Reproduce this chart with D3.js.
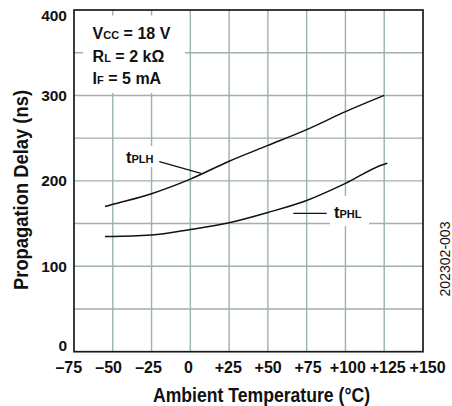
<!DOCTYPE html>
<html>
<head>
<meta charset="utf-8">
<script src="https://cdn.jsdelivr.net/npm/d3@7"></script>
<style>
  html, body { margin: 0; padding: 0; background: #fff; }
  svg { display: block; }
  .bold { font-family: "Liberation Sans", Arial, sans-serif; font-weight: bold; fill: #111; }
  .reg { font-family: "Liberation Sans", Arial, sans-serif; fill: #111; }
</style>
</head>
<body>
<svg id="chart" width="452" height="406"></svg>
<script>
// ---- data ----
const tempsPLH = [-55, -50, -25, 0, 25, 50, 75, 100, 125];
const valuesPLH = [170, 172.5, 185, 202, 223, 241.5, 260, 281, 300];
const tempsPHL = [-55, -50, -25, 0, 25, 50, 75, 100, 125, 127];
const valuesPHL = [135, 135, 136.5, 143, 151, 163, 177, 197, 219.5, 220.5];

const xTickValues = [-75, -50, -25, 0, 25, 50, 75, 100, 125, 150];
const xTickLabels = ["\u201375", "\u201350", "\u201325", "0", "+25", "+50", "+75", "+100", "+125", "+150"];
const yTickValues = [0, 100, 200, 300, 400];
const yTickLabels = ["0", "100", "200", "300", "400"];
const yGridValues = [50, 100, 150, 200, 250, 300, 350];
const xGridValues = [-50, -25, 0, 25, 50, 75, 100, 125];

const xTitle = "Ambient Temperature (\u00B0C)";
const yTitle = "Propagation Delay (ns)";
const figId = "202302-003";
const conditions = [["V", "CC", " = 18 V"], ["R", "L", " = 2 k\u03A9"], ["I", "F", " = 5 mA"]];
const seriesLabels = [["t", "PLH"], ["t", "PHL"]];

// ---- layout ----
const svg = d3.select("#chart");
const x = d3.scaleLinear().domain([-75, 150]).range([74, 423]);
const xLabel = d3.scaleLinear().domain([-75, 150]).range([68.8, 427.6]);
const y = d3.scaleLinear().domain([0, 400]).range([351.7, 10]);
const gridColor = "#9db1ae";

// grid
svg.append("g").selectAll("line").data(xGridValues).join("line")
  .attr("x1", d => x(d)).attr("x2", d => x(d))
  .attr("y1", y(0)).attr("y2", y(400))
  .attr("stroke", gridColor).attr("stroke-width", 1.4);
svg.append("g").selectAll("line").data(yGridValues).join("line")
  .attr("x1", x(-75)).attr("x2", x(150))
  .attr("y1", d => y(d)).attr("y2", d => y(d))
  .attr("stroke", gridColor).attr("stroke-width", 1.4);

// white backgrounds behind annotations (data units)
const bgBoxes = [
  [-69.2, -3.4, 393.6, 302.8],
  [-42.8, -21.5, 240.8, 216.2],
  [90, 115.2, 182.3, 147.1]
];
svg.append("g").selectAll("rect").data(bgBoxes).join("rect")
  .attr("x", d => x(d[0])).attr("width", d => x(d[1]) - x(d[0]))
  .attr("y", d => y(d[2])).attr("height", d => y(d[3]) - y(d[2]))
  .attr("fill", "#fff");

// frame
svg.append("rect")
  .attr("x", x(-75)).attr("y", y(400))
  .attr("width", x(150) - x(-75)).attr("height", y(0) - y(400))
  .attr("fill", "none").attr("stroke", "#1a1a1a").attr("stroke-width", 1.7);

// curves
const line = d3.line().x(d => x(d[0])).y(d => y(d[1])).curve(d3.curveMonotoneX);
svg.append("path").datum(tempsPLH.map((t, i) => [t, valuesPLH[i]]))
  .attr("d", line).attr("fill", "none").attr("stroke", "#111").attr("stroke-width", 1.5);
svg.append("path").datum(tempsPHL.map((t, i) => [t, valuesPHL[i]]))
  .attr("d", line).attr("fill", "none").attr("stroke", "#111").attr("stroke-width", 1.5);

// leader lines
const leaders = [[-20, 222.4, 6.9, 208.8], [66.4, 162, 87.9, 162]];
svg.append("g").selectAll("line").data(leaders).join("line")
  .attr("x1", d => x(d[0])).attr("y1", d => y(d[1]))
  .attr("x2", d => x(d[2])).attr("y2", d => y(d[3]))
  .attr("stroke", "#111").attr("stroke-width", 1.3);

// series labels
const labelPos = [[-41.5, 221.2], [92.6, 156.4]];
seriesLabels.forEach((lab, i) => {
  const t = svg.append("text").attr("class", "bold")
    .attr("x", x(labelPos[i][0])).attr("y", y(labelPos[i][1]));
  t.append("tspan").attr("font-size", 16.5).text(lab[0]);
  t.append("tspan").attr("font-size", 11).text(lab[1]);
});

// conditions
const condX = -63;
const condY = [366, 338.8, 313.4];
conditions.forEach((c, i) => {
  const t = svg.append("text").attr("class", "bold")
    .attr("x", x(condX)).attr("y", y(condY[i]));
  t.append("tspan").attr("font-size", 16).text(c[0]);
  t.append("tspan").attr("font-size", 11).text(c[1]);
  t.append("tspan").attr("font-size", 16).text(c[2]);
});

// x tick labels
svg.append("g").selectAll("text").data(xTickValues).join("text")
  .attr("class", "bold").attr("font-size", 16)
  .attr("x", d => xLabel(d)).attr("y", 373.3)
  .attr("text-anchor", "middle")
  .text((d, i) => xTickLabels[i]);

// y tick labels
svg.append("g").selectAll("text").data(yTickValues).join("text")
  .attr("class", "bold").attr("font-size", 15.5)
  .attr("x", 67).attr("y", d => d === 0 ? y(d) - 0.5 : d === 400 ? y(d) + 11 : y(d) + 5.5)
  .attr("text-anchor", "end")
  .text((d, i) => yTickLabels[i]);

// axis titles (condensed to the reference width)
svg.append("text").attr("class", "bold").attr("font-size", 20.5)
  .attr("x", 261.5).attr("y", 401.5).attr("text-anchor", "middle")
  .attr("textLength", 217).attr("lengthAdjust", "spacingAndGlyphs")
  .text(xTitle);
svg.append("text").attr("class", "bold").attr("font-size", 20.5)
  .attr("transform", "translate(27.5,190) rotate(-90)").attr("text-anchor", "middle")
  .attr("textLength", 200).attr("lengthAdjust", "spacingAndGlyphs")
  .text(yTitle);

// figure id
svg.append("text").attr("class", "reg").attr("font-size", 15.5)
  .attr("transform", "translate(450,259) rotate(-90)").attr("text-anchor", "middle")
  .attr("textLength", 75).attr("lengthAdjust", "spacingAndGlyphs")
  .text(figId);
</script>
</body>
</html>
